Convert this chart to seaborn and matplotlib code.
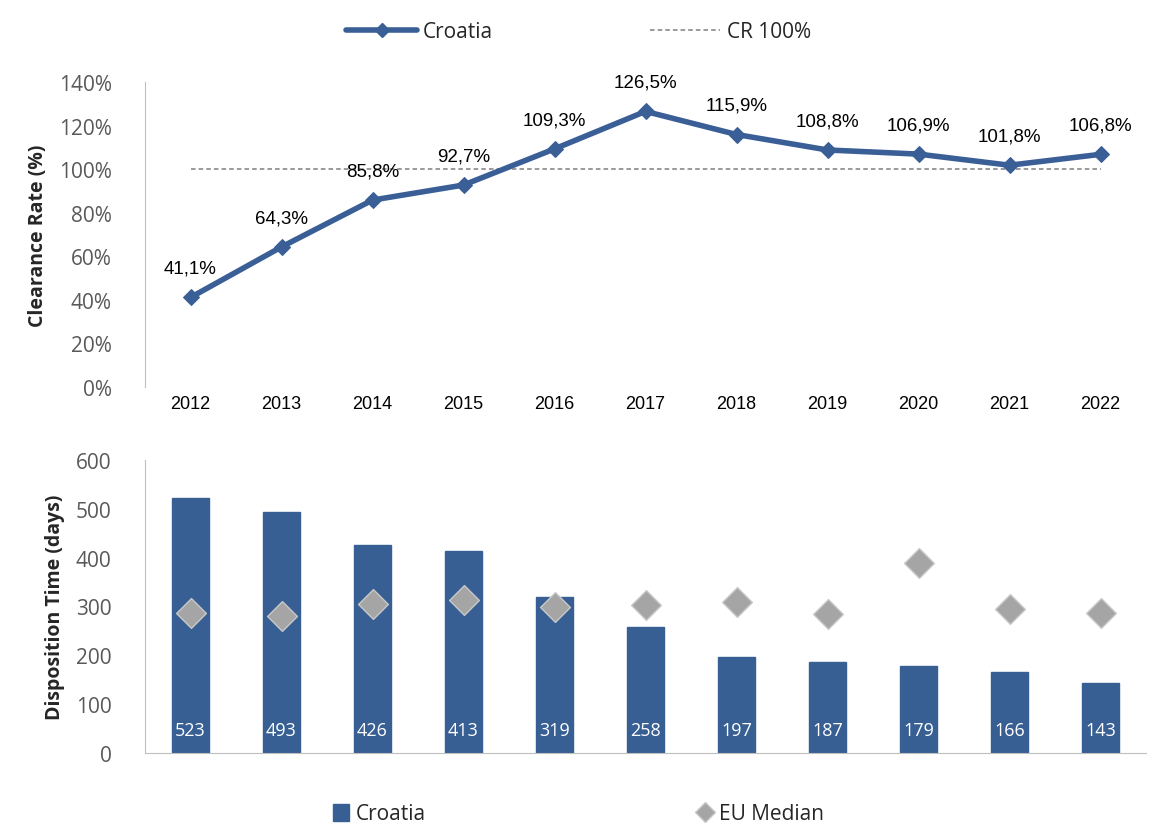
import numpy as np
import pandas as pd
import seaborn as sns
from matplotlib import pyplot as plt
from matplotlib.lines import Line2D
from matplotlib.patches import Patch
from matplotlib.ticker import PercentFormatter

years = ['2012', '2013', '2014', '2015', '2016', '2017', '2018', '2019', '2020', '2021', '2022']
clearance_rate = [41.1, 64.3, 85.8, 92.7, 109.3, 126.5, 115.9, 108.8, 106.9, 101.8, 106.8]
cr_target = 100
disposition_croatia = [523, 493, 426, 413, 319, 258, 197, 187, 179, 166, 143]
disposition_eu_median = [287, 281, 305, 314, 299, 303, 309, 285, 389, 295, 287]

blue = '#375f93'
line_blue = '#3a5f96'
grey = '#a5a5a5'
tick_grey = '#595959'

sns.set_style('white')
plt.rcParams['font.family'] = ['Open Sans', 'DejaVu Sans']

df = pd.DataFrame({
    'year': years,
    'pos': np.arange(len(years)),
    'cr': clearance_rate,
    'dt': disposition_croatia,
    'eu': disposition_eu_median,
})

fig = plt.figure(figsize=(11.57, 8.29), dpi=100)
ax1 = fig.add_axes([145 / 1157, 1 - 388 / 829, 1001 / 1157, 305 / 829])
ax2 = fig.add_axes([145 / 1157, 1 - 754 / 829, 1001 / 1157, 293 / 829])

# top: clearance rate
ax1.hlines(cr_target, df['pos'].iloc[0], df['pos'].iloc[-1], colors='#7f7f7f',
           linestyles=(0, (3, 2)), linewidth=1.1, zorder=1)
sns.lineplot(data=df, x='pos', y='cr', ax=ax1, color=line_blue, linewidth=4,
             marker='D', markersize=8, markeredgecolor=line_blue, zorder=3)
for x, v in zip(df['pos'], df['cr']):
    ax1.annotate(f'{v:.1f}%'.replace('.', ','), (x, v), xytext=(0, 15),
                 textcoords='offset points', ha='center', va='bottom',
                 fontsize=13.5, family='Liberation Sans', color='black')
ax1.set_xlim(-0.5, len(years) - 0.5)
ax1.set_ylim(0, 140)
ax1.set_yticks(np.arange(0, 141, 20))
ax1.yaxis.set_major_formatter(PercentFormatter(decimals=0))
ax1.set_xticks(df['pos'])
ax1.set_xticklabels(years, family='Liberation Sans', fontsize=13, color='black')
ax1.tick_params(axis='y', labelsize=15, labelcolor=tick_grey, length=0, pad=24)
ax1.tick_params(axis='x', length=0, pad=6)
ax1.set_xlabel('')
ax1.set_ylabel('Clearance Rate (%)', fontsize=14, fontweight='bold', labelpad=8)
for s in ['top', 'right', 'bottom']:
    ax1.spines[s].set_visible(False)
ax1.spines['left'].set_color('#bfbfbf')

# bottom: disposition time
sns.barplot(data=df, x='year', y='dt', ax=ax2, color=blue, width=0.41,
            saturation=1, edgecolor=blue, zorder=2)
sns.scatterplot(data=df, x='pos', y='eu', ax=ax2, marker='D', s=230,
                color=grey, edgecolor='#c8c8c8', linewidth=1, zorder=3)
for x, v in zip(df['pos'], df['dt']):
    ax2.text(x, 48, str(v), ha='center', va='center', color='white', fontsize=13)
ax2.set_xlim(-0.5, len(years) - 0.5)
ax2.set_ylim(0, 600)
ax2.set_yticks(np.arange(0, 601, 100))
ax2.set_xticks([])
ax2.tick_params(axis='y', labelsize=15, labelcolor=tick_grey, length=0, pad=24)
ax2.set_xlabel('')
ax2.set_ylabel('Disposition Time (days)', fontsize=14, fontweight='bold', labelpad=8)
for s in ['top', 'right']:
    ax2.spines[s].set_visible(False)
ax2.spines['left'].set_color('#bfbfbf')
ax2.spines['bottom'].set_color('#bfbfbf')

# legends
top_handles = [
    Line2D([], [], color=line_blue, linewidth=4, marker='D', markersize=7),
    Line2D([], [], color='#7f7f7f', linewidth=1.1, linestyle=(0, (3, 2))),
]
fig.legend(top_handles, ['Croatia', 'CR 100%'], loc='center', bbox_to_anchor=(0.5, 1 - 33 / 829),
           ncol=2, frameon=False, fontsize=15, columnspacing=7.5, handlelength=3.4,
           handletextpad=0.3)
bottom_handles = [
    Patch(facecolor=blue, edgecolor=blue),
    Line2D([], [], color=grey, linestyle='', marker='D', markersize=10, markeredgecolor='#c8c8c8'),
]
fig.legend(bottom_handles, ['Croatia', 'EU Median'], loc='center', bbox_to_anchor=(0.5, 1 - 815 / 829),
           ncol=2, frameon=False, fontsize=15, columnspacing=13, handlelength=0.8,
           handleheight=0.9, handletextpad=0.3)

fig.savefig('out.png', dpi=100)
